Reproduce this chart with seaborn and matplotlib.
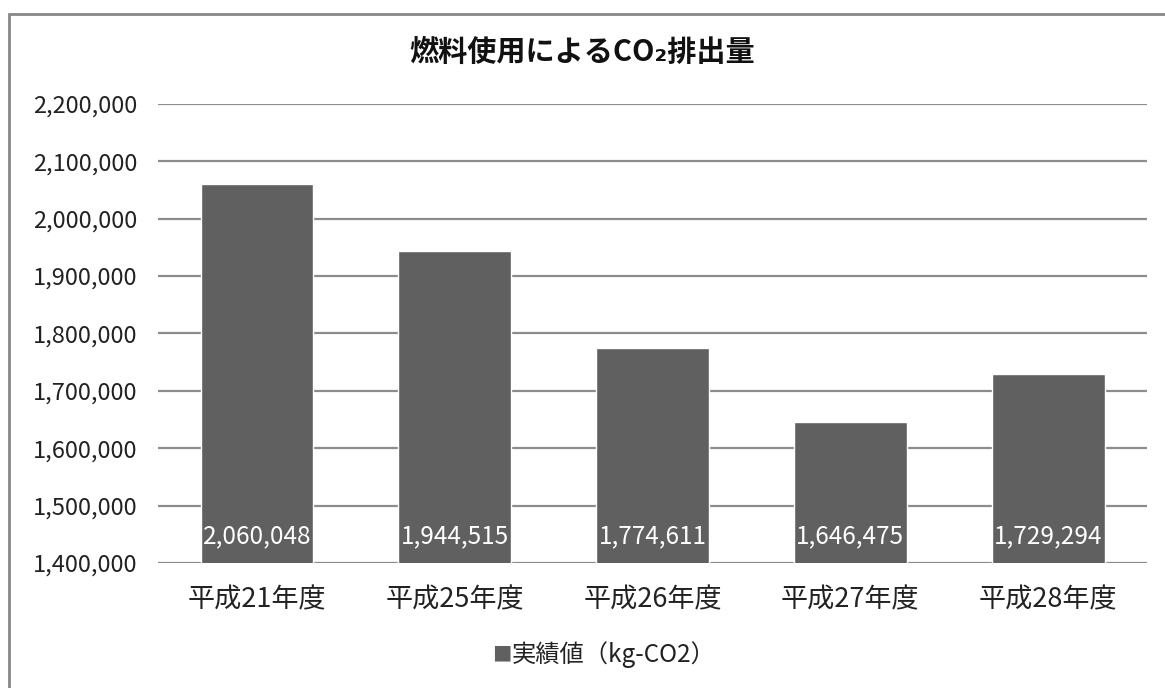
import matplotlib
matplotlib.use("Agg")
import matplotlib.pyplot as plt
import seaborn as sns
import pandas as pd
from matplotlib.patches import Rectangle
from matplotlib.ticker import FuncFormatter

years = ["平成21年度", "平成25年度", "平成26年度", "平成27年度", "平成28年度"]
values = [2060048, 1944515, 1774611, 1646475, 1729294]
series_name = "実績値（kg-CO2）"

sns.set_style("white")
plt.rcParams['font.family'] = ['Noto Sans CJK JP', 'DejaVu Sans']

df = pd.DataFrame({"year": years, "value": values})

fig = plt.figure(figsize=(11.65, 6.88), dpi=100)
ax = fig.add_axes([0.1356, 0.1817, 0.849, 0.6673])

sns.barplot(data=df, x="year", y="value", color="#606060", saturation=1,
            width=0.57, ax=ax, zorder=3)

ax.set_ylim(1400000, 2200000)
ax.set_yticks(range(1400000, 2200001, 100000))
ax.yaxis.set_major_formatter(FuncFormatter(lambda v, p: f"{int(v):,}"))
ax.grid(axis="y", color="#8c8c8c", linewidth=1.6, zorder=0)
for s in ax.spines.values():
    s.set_visible(False)
ax.tick_params(axis="y", length=0, pad=15, labelsize=17, colors="#222222")
ax.tick_params(axis="x", length=0, pad=17, labelsize=19.5, colors="#222222")
ax.set_xlabel("")
ax.set_ylabel("")

for i, v in enumerate(values):
    ax.annotate(f"{v:,}", (i, 1400000), xytext=(0, 19), textcoords="offset points",
                ha="center", va="center", color="white", fontsize=17.5, zorder=4)

fig.text(0.5, 0.924, "燃料使用によるCO₂排出量", ha="center", va="center",
         fontsize=21, fontweight="bold", color="#111111")

fig.text(0.4395, 0.048, "■", ha="right", va="center", fontsize=14, color="#606060")
fig.text(0.4395, 0.048, series_name, ha="left", va="center", fontsize=17.5, color="#222222")

# outer chart frame: only left and top edges fall inside the image
fig.patches.append(Rectangle((0.0073, -0.05), 1.1, 0.05 + 0.9797, transform=fig.transFigure,
                             fill=False, edgecolor="#888888", linewidth=2))

fig.savefig("out.png", dpi=100)
